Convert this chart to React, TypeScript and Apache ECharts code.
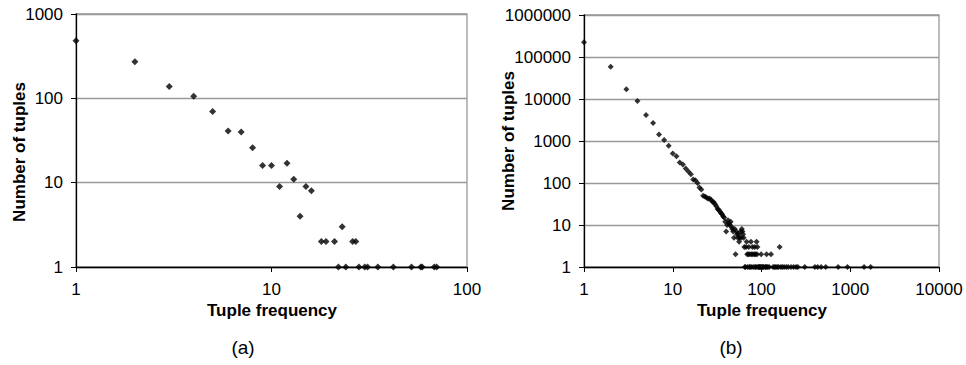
import React, { useEffect, useRef } from "react";
import * as echarts from "echarts";

// Chart (a)
const xA = [1, 2, 3, 4, 5, 6, 7, 8, 9, 10, 11, 12, 13, 14, 15, 16, 18, 19, 21, 22, 23, 24, 26, 27, 28, 30, 31, 35, 42, 52, 58, 59, 68, 70];
const yA = [483, 272, 138, 106, 70, 41, 40, 26, 16, 16, 9, 17, 11, 4, 9, 8, 2, 2, 2, 1, 3, 1, 2, 2, 1, 1, 1, 1, 1, 1, 1, 1, 1, 1];

// Chart (b)
const xB = [
  1, 2, 3, 4, 5, 6, 7, 8, 9, 10, 11, 12, 13, 14, 15, 16, 17, 18, 19, 20,
  21, 22, 23, 24, 25, 26, 27, 28, 29, 30, 31, 32, 33, 34, 35, 36, 37, 38, 39, 40,
  41, 42, 43, 44, 45, 46, 47, 48, 49, 50, 51, 52, 53, 54, 55, 56, 57, 58, 59, 60,
  61, 62, 63, 64, 65, 66, 67, 68, 69, 70, 71, 72, 73, 74, 75, 76, 77, 78, 79, 80,
  82, 83, 84, 85, 86, 87, 88, 89, 90, 91, 93, 95, 96, 98, 99, 100, 102, 104, 106, 110,
  112, 114, 115, 118, 122, 128, 135, 140, 145, 150, 156, 160, 165, 172, 180, 190, 200, 215, 230, 245,
  257, 307, 400, 430, 470, 530, 730, 930, 1430, 1700,
];
const yB = [
  225000, 58600, 17100, 9000, 4170, 2700, 1420, 1050, 772, 505, 435, 308, 275, 221, 187, 162, 121, 116, 100, 78,
  70, 50, 48, 45, 42, 43, 40, 36, 35, 31, 28, 24, 23, 21, 19, 18, 16, 15, 12, 7,
  10, 13, 11, 10, 12, 9, 8, 7, 5, 8, 2, 7, 6, 5, 6, 4, 5, 7, 5, 8,
  7, 6, 5, 3, 1, 1, 3, 4, 2, 1, 2, 3, 1, 2, 1, 4, 2, 1, 3, 2,
  1, 2, 3, 1, 2, 1, 4, 2, 3, 1, 1, 1, 1, 1, 2, 1, 1, 1, 1, 1,
  1, 2, 1, 1, 1, 2, 1, 1, 1, 1, 1, 3, 1, 1, 1, 1, 1, 1, 1, 1,
  1, 1, 1, 1, 1, 1, 1, 1, 1, 1,
];

const FONT = "'Liberation Sans', Arial, Helvetica, sans-serif";

const zip = (xs: number[], ys: number[]) => xs.map((x, i) => [x, ys[i]]);
const fmt = (v: number) => String(Math.round(v));

function xAxisCfg(gridIndex: number, max: number) {
  return {
    type: "log",
    logBase: 10,
    gridIndex,
    min: 1,
    max,
    axisLine: { show: true, lineStyle: { color: "#000", width: 1.3 } },
    axisTick: { show: true, inside: false, length: 5, lineStyle: { color: "#000" } },
    minorTick: { show: false },
    splitLine: { show: false },
    axisLabel: { color: "#000", fontSize: 17, fontFamily: FONT, margin: 14, formatter: fmt },
  };
}

function yAxisCfg(gridIndex: number, max: number) {
  return {
    type: "log",
    logBase: 10,
    gridIndex,
    min: 1,
    max,
    axisLine: { show: true, lineStyle: { color: "#000", width: 1.3 } },
    axisTick: { show: true, inside: false, length: 5, lineStyle: { color: "#000" } },
    minorTick: { show: false },
    splitLine: { show: true, lineStyle: { color: "#999999", width: 1.3 } },
    axisLabel: { color: "#000", fontSize: 17, fontFamily: FONT, margin: 13, formatter: fmt },
  };
}

export default function App() {
  const ref = useRef<HTMLDivElement>(null);
  useEffect(() => {
    if (!ref.current) return;
    const chart = echarts.init(ref.current, null, { renderer: "svg" });
    chart.setOption({
      animation: false,
      backgroundColor: "#fff",
      grid: [
        { left: 76, top: 14, width: 391, height: 253, show: true, borderColor: "#999999", borderWidth: 1.3, backgroundColor: "transparent" },
        { left: 584, top: 15, width: 355, height: 252, show: true, borderColor: "#999999", borderWidth: 1.3, backgroundColor: "transparent" },
      ],
      xAxis: [xAxisCfg(0, 100), xAxisCfg(1, 10000)],
      yAxis: [yAxisCfg(0, 1000), yAxisCfg(1, 1000000)],
      series: [
        {
          type: "scatter",
          xAxisIndex: 0,
          yAxisIndex: 0,
          data: zip(xA, yA),
          symbol: "diamond",
          symbolSize: 7,
          clip: false,
          itemStyle: { color: "#000" },
        },
        {
          type: "scatter",
          xAxisIndex: 1,
          yAxisIndex: 1,
          data: zip(xB, yB),
          symbol: "diamond",
          symbolSize: 6,
          clip: false,
          itemStyle: { color: "#000" },
        },
      ],
      graphic: [
        { type: "text", x: 19, y: 152, rotation: Math.PI / 2, style: { text: "Number of tuples", font: `bold 17px ${FONT}`, fill: "#000", align: "center", verticalAlign: "middle" } },
        { type: "text", x: 508, y: 141, rotation: Math.PI / 2, style: { text: "Number of tuples", font: `bold 17px ${FONT}`, fill: "#000", align: "center", verticalAlign: "middle" } },
        { type: "text", x: 272, y: 310, style: { text: "Tuple frequency", font: `bold 17px ${FONT}`, fill: "#000", align: "center", verticalAlign: "middle" } },
        { type: "text", x: 762, y: 310, style: { text: "Tuple frequency", font: `bold 17px ${FONT}`, fill: "#000", align: "center", verticalAlign: "middle" } },
        { type: "text", x: 243, y: 347, style: { text: "(a)", font: `19px ${FONT}`, fill: "#000", align: "center", verticalAlign: "middle" } },
        { type: "text", x: 731, y: 347, style: { text: "(b)", font: `19px ${FONT}`, fill: "#000", align: "center", verticalAlign: "middle" } },
      ],
    });
    return () => chart.dispose();
  }, []);
  return <div ref={ref} style={{ width: 966, height: 365, position: "absolute", left: 0, top: 0 }} />;
}
